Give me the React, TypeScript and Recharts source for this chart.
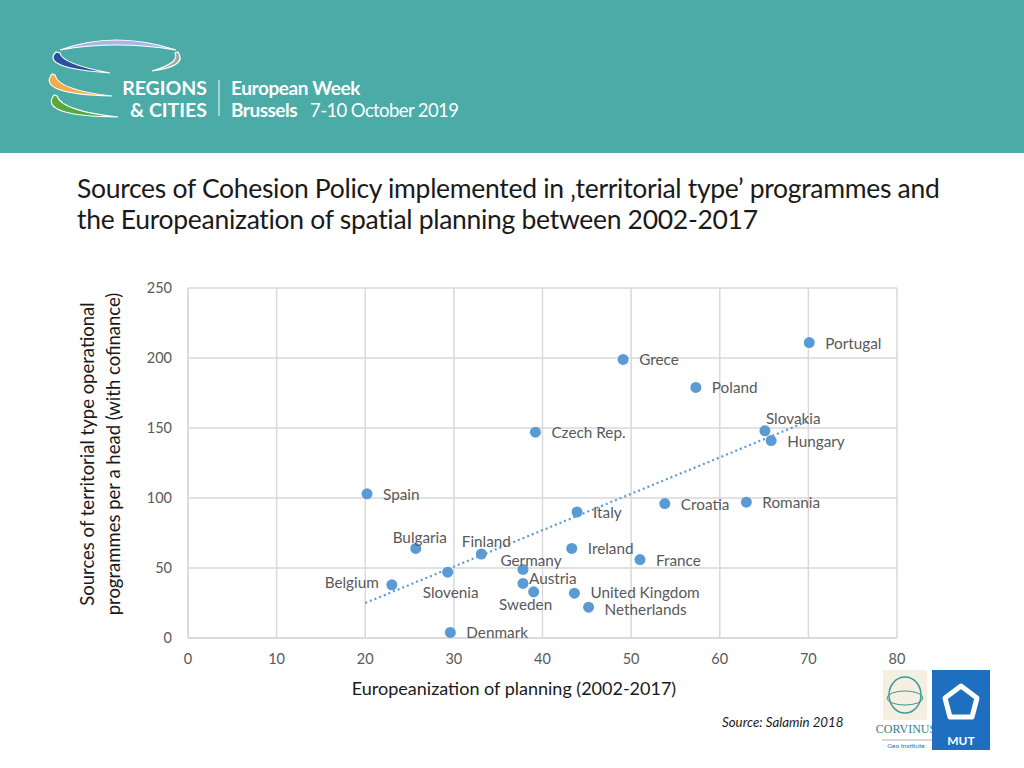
import React from 'react';
import { ScatterChart, Scatter, XAxis, YAxis, CartesianGrid } from 'recharts';

// values
const countries = ['Portugal', 'Grece', 'Poland', 'Czech Rep.', 'Slovakia', 'Hungary', 'Spain', 'Croatia', 'Romania', 'Italy', 'Bulgaria', 'Finland', 'Ireland', 'France', 'Germany', 'Slovenia', 'Belgium', 'Austria', 'Sweden', 'United Kingdom', 'Netherlands', 'Denmark'];
const europeanization = [70.1, 49.1, 57.3, 39.2, 65.1, 65.8, 20.2, 53.8, 63.0, 43.9, 25.7, 33.1, 43.3, 51.0, 37.8, 29.3, 23.0, 37.8, 39.0, 43.6, 45.2, 29.6];
const cohesionPerHead = [211, 199, 179, 147, 148, 141, 103, 96, 97, 90, 64, 60, 64, 56, 49, 47, 38, 39, 33, 32, 22, 4];
const trendX = [20, 70];
const trendY = [25, 155];
const xTicks = [0, 10, 20, 30, 40, 50, 60, 70, 80];
const yTicks = [0, 50, 100, 150, 200, 250];

const points = countries.map((name, i) => ({ name, x: europeanization[i], y: cohesionPerHead[i] }));
const trend = trendX.map((x, i) => ({ x, y: trendY[i] }));

// where each label sits relative to its dot: [anchor, dx, dy]
const labelPlacement: Record<string, [string, number, number]> = {
  'Slovakia': ['start', 1, -13],
  'Bulgaria': ['middle', 4, -11],
  'Finland': ['middle', 5, -13],
  'Germany': ['middle', 8, -9],
  'Slovenia': ['middle', 3, 20],
  'Belgium': ['end', -13, -3],
  'Austria': ['start', 6, -5],
  'Sweden': ['middle', -8, 12],
  'United Kingdom': ['start', 16, -1],
  'Netherlands': ['start', 16, 1.5],
};

const FONT = 'Lato, "Open Sans", sans-serif';
const BLUE = '#5b9bd5';
const GREY = '#595959';

const Dot = (props: any) => {
  const { cx, cy, payload } = props;
  const [anchor, dx, dy] = labelPlacement[payload.name] || ['start', 16, 0];
  return (
    <g>
      <circle cx={cx} cy={cy} r={5.5} fill={BLUE} />
      <text x={cx + dx} y={cy + dy} textAnchor={anchor as any} dominantBaseline="central"
        fill={GREY} fontSize={15.3} fontFamily={FONT}>{payload.name}</text>
    </g>
  );
};

function Header() {
  return (
    <div style={{ position: 'absolute', left: 0, top: 0, width: 1024, height: 153, background: '#4aaba7' }}>
      <svg width={520} height={153} style={{ position: 'absolute', left: 0, top: 0 }}>
        <path d="M60 50 Q115 30 176 50 Q115 40 60 50 Z" fill="#a9b6e6" stroke="#fff" strokeWidth={1.2} />
        <path d="M56 52 Q40 68 110 73 Q62 64 60 53 Z" fill="#2d4f9e" stroke="#fff" strokeWidth={1.2} />
        <path d="M178 52 Q188 66 152 71 Q180 63 175 53 Z" fill="#a7a7a7" stroke="#fff" strokeWidth={1.2} />
        <path d="M52 74 Q36 94 112 96 Q58 90 55 75 Z" fill="#f0ad4e" stroke="#fff" strokeWidth={1.2} />
        <path d="M54 95 Q38 116 118 117 Q62 111 57 96 Z" fill="#5aa83c" stroke="#fff" strokeWidth={1.2} />
        <line x1={219} y1={80} x2={219} y2={116} stroke="#fff" strokeWidth={1} />
        <text x={207} y={95} textAnchor="end" fill="#fff" fontSize={19.5} fontWeight={700} fontFamily={FONT}>REGIONS</text>
        <text x={207} y={117} textAnchor="end" fill="#fff" fontSize={19.5} fontWeight={700} fontFamily={FONT}>&amp; CITIES</text>
        <text x={231} y={95} fill="#fff" fontSize={19} fontWeight={700} fontFamily={FONT} letterSpacing={-0.4}>European Week</text>
        <text x={231} y={117} fill="#fff" fontSize={19} fontWeight={700} fontFamily={FONT} letterSpacing={-0.5}>Brussels</text>
        <text x={310} y={117} fill="#fff" fontSize={18.5} fontFamily={FONT} letterSpacing={-0.6}>7-10 October 2019</text>
      </svg>
    </div>
  );
}

function Logos() {
  return (
    <svg width={120} height={85} style={{ position: 'absolute', left: 876, top: 668 }}>
      <rect x={7} y={2} width={44} height={50} fill="#f4efe0" />
      <ellipse cx={29} cy={27} rx={16} ry={18} fill="none" stroke="#3a9a9a" strokeWidth={1.5} />
      <ellipse cx={29} cy={30} rx={18} ry={7} fill="none" stroke="#3a9a9a" strokeWidth={1} />
      <text x={30} y={65} textAnchor="middle" fill="#2f7f86" fontSize={12} fontFamily="'Liberation Serif', serif">CORVINUS</text>
      <line x1={6} y1={72} x2={58} y2={72} stroke="#777" strokeWidth={0.6} />
      <text x={30} y={80} textAnchor="middle" fill="#2a70b8" fontSize={6.5} fontFamily={FONT}>Geo Institute</text>
      <rect x={56} y={2} width={58} height={80} fill="#1f6fc0" />
      <path d="M85 18 L101 30 L96 49 L74 49 L69 30 Z" fill="none" stroke="#fff" strokeWidth={5} strokeLinejoin="round" />
      <text x={85} y={77} textAnchor="middle" fill="#fff" fontSize={12} fontWeight={700} fontFamily={FONT}>MUT</text>
    </svg>
  );
}

export default function App() {
  return (
    <div style={{ position: 'absolute', left: 0, top: 0, width: 1024, height: 768, background: '#fff', overflow: 'hidden', fontFamily: FONT }}>
      <Header />
      <div style={{ position: 'absolute', left: 77, top: 173, fontSize: 26.5, lineHeight: '31px', color: '#1a1a1a', letterSpacing: -0.3, whiteSpace: 'nowrap' }}>
        Sources of Cohesion Policy implemented in ‚territorial type’ programmes and<br />
        the Europeanization of spatial planning between 2002-2017
      </div>
      <div style={{ position: 'absolute', left: 0, top: 270 }}>
        <ScatterChart width={920} height={420} margin={{ top: 18, right: 23, bottom: 22, left: 148 }}>
          <CartesianGrid stroke="#d9d9d9" strokeWidth={1.5} />
          <XAxis type="number" dataKey="x" domain={[0, 80]} ticks={xTicks} height={30}
            axisLine={{ stroke: '#d9d9d9', strokeWidth: 1.5 }} tickLine={false} tickMargin={10}
            tick={{ fill: GREY, fontSize: 14.5, fontFamily: FONT }} />
          <YAxis type="number" dataKey="y" domain={[0, 250]} ticks={yTicks} width={40}
            axisLine={{ stroke: '#d9d9d9', strokeWidth: 1.5 }} tickLine={false} tickMargin={10}
            tick={{ fill: GREY, fontSize: 14.5, fontFamily: FONT }} />
          <Scatter data={trend} line={{ stroke: BLUE, strokeWidth: 2.2, strokeDasharray: '2 3' }}
            shape={() => <g />} isAnimationActive={false} />
          <Scatter data={points} shape={Dot} isAnimationActive={false} />
        </ScatterChart>
      </div>
      <div style={{ position: 'absolute', left: 0, width: 1028, top: 677, textAlign: 'center', fontSize: 18, color: '#1a1a1a' }}>
        Europeanization of planning (2002-2017)
      </div>
      <div style={{ position: 'absolute', left: 100, top: 454, width: 0, height: 0 }}>
        <div style={{ position: 'absolute', left: -200, top: -26, width: 400, textAlign: 'center', fontSize: 18.5, lineHeight: '26px', color: '#1a1a1a', transform: 'rotate(-90deg)', whiteSpace: 'nowrap' }}>
          Sources of territorial type operational<br />programmes per a head (with cofinance)
        </div>
      </div>
      <div style={{ position: 'absolute', left: 722, top: 714, fontSize: 13.3, fontStyle: 'italic', color: '#1a1a1a' }}>
        Source: Salamin 2018
      </div>
      <Logos />
    </div>
  );
}
